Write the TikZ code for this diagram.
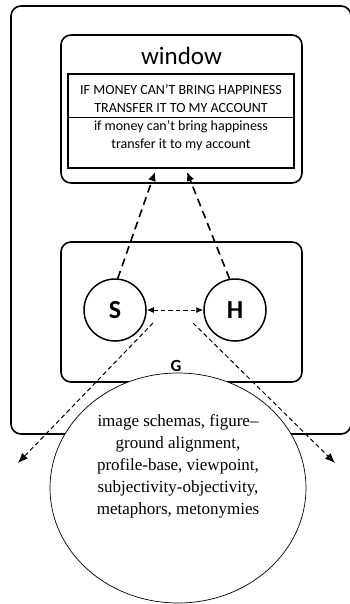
\documentclass[tikz,border=0pt]{standalone}
\usepackage{fontspec}
\setmainfont{Liberation Serif}
\newfontfamily\calibri{Carlito}
\usetikzlibrary{arrows.meta,shapes.geometric}

\begin{document}
\begin{tikzpicture}[x=1pt,y=-1pt,
			frame box/.style={draw,line width=1.6pt,rounded corners=10pt,inner sep=0pt},
			person node/.style={circle,draw,line width=1.5pt,minimum size=62pt,inner sep=0pt,font=\calibri\bfseries\fontsize{26}{26}\selectfont},
			link/.style={line width=1.6pt,dash pattern=on 8pt off 5pt,-{Latex[length=9pt,width=8pt]}},
			thin link/.style={line width=1pt,dash pattern=on 4.5pt off 3pt,-{Latex[length=10pt,width=8pt]}}
			]
			
			\def \cw {241};
			
			\useasboundingbox (0,0) rectangle (350,604);
			\draw[line width=1.6pt,rounded corners=10pt] (11,6) rectangle (351,434);
			
			% window with the message
			\node[frame box,minimum width=\cw,minimum height=148] (window) at (181.5,109) {};
			\node[font=\calibri\fontsize{25}{25}\selectfont] (title) at (181.5,56) {window};
			\node[draw,line width=2.2pt,minimum width=226,minimum height=94,inner sep=0pt] (msg) at (181,121) {};
			\draw[line width=0.8pt] (msg.west |- 0,117) -- (msg.east |- 0,117);
			\node[font=\calibri\fontsize{14}{18}\selectfont,align=center] (upper) at (181,99) {IF MONEY CAN’T BRING HAPPINESS\\TRANSFER IT TO MY ACCOUNT};
			\node[font=\calibri\fontsize{14}{18}\selectfont,align=center] (lower) at (181,136) {if money can’t bring happiness\\transfer it to my account};
			
			% ground with speaker and hearer
			\node[frame box,minimum width=\cw,minimum height=140] (ground) at (181.5,312) {};
			\node[person node] (S) at (115,310) {S};
			\node[person node] (H) at (235,310) {H};
			\node[font=\calibri\bfseries\fontsize{17}{17}\selectfont] (G) at (176,366) {G};
			
			\node[ellipse,draw,fill=white,line width=0.7pt,minimum width=256,minimum height=230] (construal) at (178,488) {};
			\node[font=\fontsize{17}{22}\selectfont,align=center] (aspects) at (178,466) {image schemas, figure--\\ground alignment,\\profile-base, viewpoint,\\subjectivity-objectivity,\\metaphors, metonymies};
			
			\coordinate (sTip) at (155,172);
			\coordinate (hTip) at (187,172);
			\coordinate (lFrom) at (153,323);
			\coordinate (rFrom) at (193,323);
			\coordinate (lTo) at (18,463);
			\coordinate (rTo) at (335,463);
			
			\draw[link] (S.85) -- (sTip);
			\draw[link] (H.100) -- (hTip);
			\draw[thin link,{Latex[length=7pt,width=6pt]}-{Latex[length=7pt,width=6pt]}] (S.east) -- (H.west);
			\draw[thin link] (lFrom) -- (lTo);
			\draw[thin link] (rFrom) -- (rTo);
			
\end{tikzpicture}
\end{document}
